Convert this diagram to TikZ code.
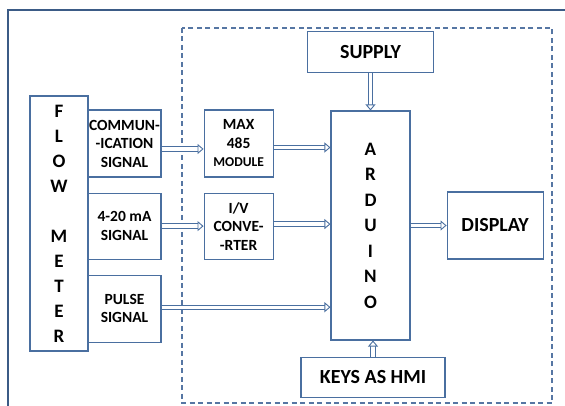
\documentclass[tikz,border=0pt]{standalone}
\usepackage{fontspec}
\setmainfont{Carlito}
\usetikzlibrary{positioning,arrows.meta}
\definecolor{boxblue}{HTML}{4A6FA0}
\definecolor{frameblue}{HTML}{3B5B86}
\definecolor{dashblue}{HTML}{5676A3}

\begin{document}
\begin{tikzpicture}[>={Triangle[open, fill=white, length=6pt, width=10pt, line width=0.9pt]}, x=1pt, y=-1pt,
    block/.style={draw=boxblue, line width=1.1pt, inner sep=0pt, align=center, fill=white},
    small/.style={font=\fontsize{15.5}{18.5}\selectfont\bfseries},
    big/.style={font=\fontsize{20}{24}\selectfont\bfseries},
    tall/.style={font=\fontsize{19}{25}\selectfont\bfseries},
    link/.style={draw=boxblue, double=white, double distance=3.2pt, line width=1pt, ->}]

    \useasboundingbox (0,0) rectangle (565,406);

    % Frame and controller area
    \draw[frameblue, line width=1.6pt] (8,406) -- (8,10) -- (565,10);
    \draw[dashblue, line width=1.3pt, dash pattern=on 5pt off 3.5pt] (182,28) rectangle (552,403);

    % Nodes
    \node[block, tall, minimum width=58pt, minimum height=255pt] (flow) at (59,223.5)
        {F\\L\\O\\W\\[25pt]M\\E\\T\\E\\R};
    \node[block, small, minimum width=73pt, minimum height=67pt] (comm) at (124.5,143.5)
        {COMMUN-\\-ICATION\\SIGNAL};
    \node[block, small, minimum width=73pt, minimum height=66pt, below=15pt of comm] (sig)
        {4-20 mA\\SIGNAL};
    \node[block, small, minimum width=73pt, minimum height=67pt, below=15pt of sig] (pulse)
        {PULSE\\SIGNAL};
    \node[block, small, minimum width=69pt, minimum height=67pt, right=42pt of comm] (max)
        {MAX\\485\\{\fontsize{13.5}{16}\selectfont MODULE}};
    \node[block, small, minimum width=69pt, minimum height=66pt, right=42pt of sig] (iv)
        {I/V\\CONVE-\\-RTER};
    \node[block, font=\fontsize{19}{25.5}\selectfont\bfseries, minimum width=79pt, minimum height=229pt] (ard) at (370.5,225.5)
        {A\\R\\D\\U\\I\\N\\O};
    \node[block, big, minimum width=126pt, minimum height=41pt, above=37pt of ard] (supply) {SUPPLY};
    \node[block, big, minimum width=144pt, minimum height=40pt, below=16pt of ard, xshift=2.5pt] (keys) {KEYS AS HMI};
    \node[block, big, minimum width=96pt, minimum height=67pt, right=36pt of ard] (disp) {DISPLAY};

    % Arrows between blocks
    \draw[link] ([yshift=-5.5pt]comm.east) -- ([yshift=-5.5pt]max.west);
    \draw[link] (sig.east) -- (iv.west);
    \draw[link] ([yshift=-4pt]max.east) -- ([yshift=-4pt]max.east -| ard.west);
    \draw[link] ([yshift=2pt]iv.east) -- ([yshift=2pt]iv.east -| ard.west);
    \draw[link] ([yshift=1.5pt]pulse.east) -- ([yshift=1.5pt]pulse.east -| ard.west);
    \draw[link] (ard.east) -- (disp.west);
    \draw[link] (supply.south) -- (supply.south |- ard.north);
    \draw[link] (keys.north) -- (keys.north |- ard.south);

\end{tikzpicture}
\end{document}
